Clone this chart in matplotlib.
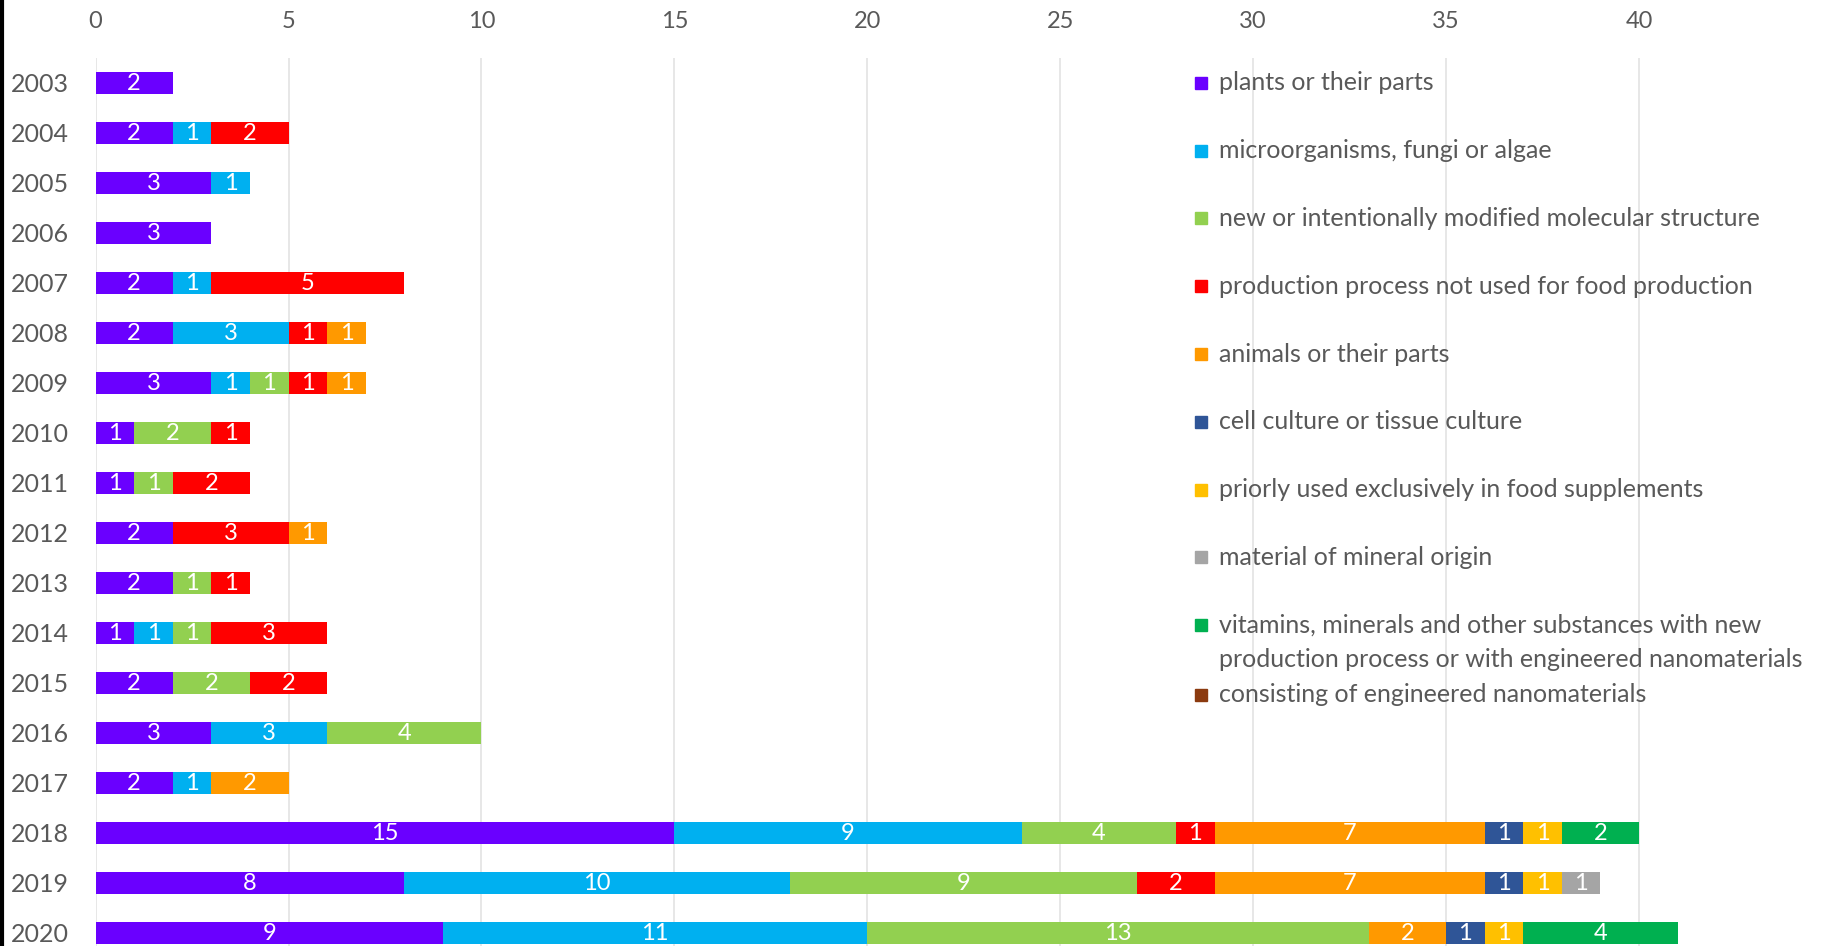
import matplotlib.pyplot as plt
from matplotlib.lines import Line2D
from matplotlib.patches import Rectangle
import numpy as np

plt.rcParams['font.family'] = ['Lato', 'DejaVu Sans']

years = [str(y) for y in range(2003, 2021)]

categories = [
    "plants or their parts",
    "microorganisms, fungi or algae",
    "new or intentionally modified molecular structure",
    "production process not used for food production",
    "animals or their parts",
    "cell culture or tissue culture",
    "priorly used exclusively in food supplements",
    "material of mineral origin",
    "vitamins, minerals and other substances with new\nproduction process or with engineered nanomaterials",
    "consisting of engineered nanomaterials",
]

colors = ["#6A00FF", "#00B0F0", "#92D050", "#FF0000", "#FF9900",
          "#2F5597", "#FFC000", "#A5A5A5", "#00B050", "#8B3A0F"]

# values per category, one entry per year 2003..2020
plants       = [2, 2, 3, 3, 2, 2, 3, 1, 1, 2, 2, 1, 2, 3, 2, 15, 8, 9]
microorg     = [0, 1, 1, 0, 1, 3, 1, 0, 0, 0, 0, 1, 0, 3, 1, 9, 10, 11]
new_molec    = [0, 0, 0, 0, 0, 0, 1, 2, 1, 0, 1, 1, 2, 4, 0, 4, 9, 13]
process      = [0, 2, 0, 0, 5, 1, 1, 1, 2, 3, 1, 3, 2, 0, 0, 1, 2, 0]
animals      = [0, 0, 0, 0, 0, 1, 1, 0, 0, 1, 0, 0, 0, 0, 2, 7, 7, 2]
cell_culture = [0, 0, 0, 0, 0, 0, 0, 0, 0, 0, 0, 0, 0, 0, 0, 1, 1, 1]
supplements  = [0, 0, 0, 0, 0, 0, 0, 0, 0, 0, 0, 0, 0, 0, 0, 1, 1, 1]
mineral      = [0, 0, 0, 0, 0, 0, 0, 0, 0, 0, 0, 0, 0, 0, 0, 0, 1, 0]
vitamins     = [0, 0, 0, 0, 0, 0, 0, 0, 0, 0, 0, 0, 0, 0, 0, 2, 0, 4]
nano         = [0] * 18

series = [plants, microorg, new_molec, process, animals,
          cell_culture, supplements, mineral, vitamins, nano]

W, H = 1828, 946
fig = plt.figure(figsize=(W / 100, H / 100), dpi=100)
ax = fig.add_axes([95.6 / W, -12 / H, 1 - 95.6 / W, 900 / H])

ypos = np.arange(len(years))
left = np.zeros(len(years))
for vals, col in zip(series, colors):
    vals = np.array(vals, dtype=float)
    ax.barh(ypos, vals, left=left, height=0.44, color=col, zorder=3)
    for y, v, l in zip(ypos, vals, left):
        if v > 0:
            ax.text(l + v / 2, y, f"{int(v)}", ha='center', va='center',
                    color='white', fontsize=17, zorder=4)
    left += vals

ax.set_ylim(len(years) - 0.5, -0.5)
ax.set_xlim(0, 44.9)
ax.set_yticks(ypos)
ax.set_yticklabels(years)
ax.set_xticks(range(0, 41, 5))
ax.xaxis.tick_top()
ax.tick_params(axis='x', length=0, pad=19, labelsize=17, labelcolor='#595959')
ax.tick_params(axis='y', length=0, pad=19, labelsize=18, labelcolor='#595959')
ax.grid(axis='x', color='#E3E3E3', linewidth=1.2, zorder=0)
for s in ax.spines.values():
    s.set_visible(False)

# legend drawn by hand to match the uneven spacing
leg_y = [82.8 + i * 67.8 for i in range(9)] + [694.8]
for i, (lab, col) in enumerate(zip(categories, colors)):
    yp = leg_y[i]
    fig.patches.append(Rectangle(((1201 - 6) / W, 1 - (yp + 6) / H), 12 / W, 12 / H,
                                 transform=fig.transFigure, color=col))
    for j, line in enumerate(lab.split("\n")):
        fig.text(1219 / W, 1 - (yp + j * 34) / H, line, ha='left', va='center',
                 fontsize=18, color='#595959')

# dark edge on the left side
fig.lines.append(Line2D([1.5 / W, 1.5 / W], [0, 1], transform=fig.transFigure,
                        color='black', linewidth=3))

fig.savefig("out.png", dpi=100)
